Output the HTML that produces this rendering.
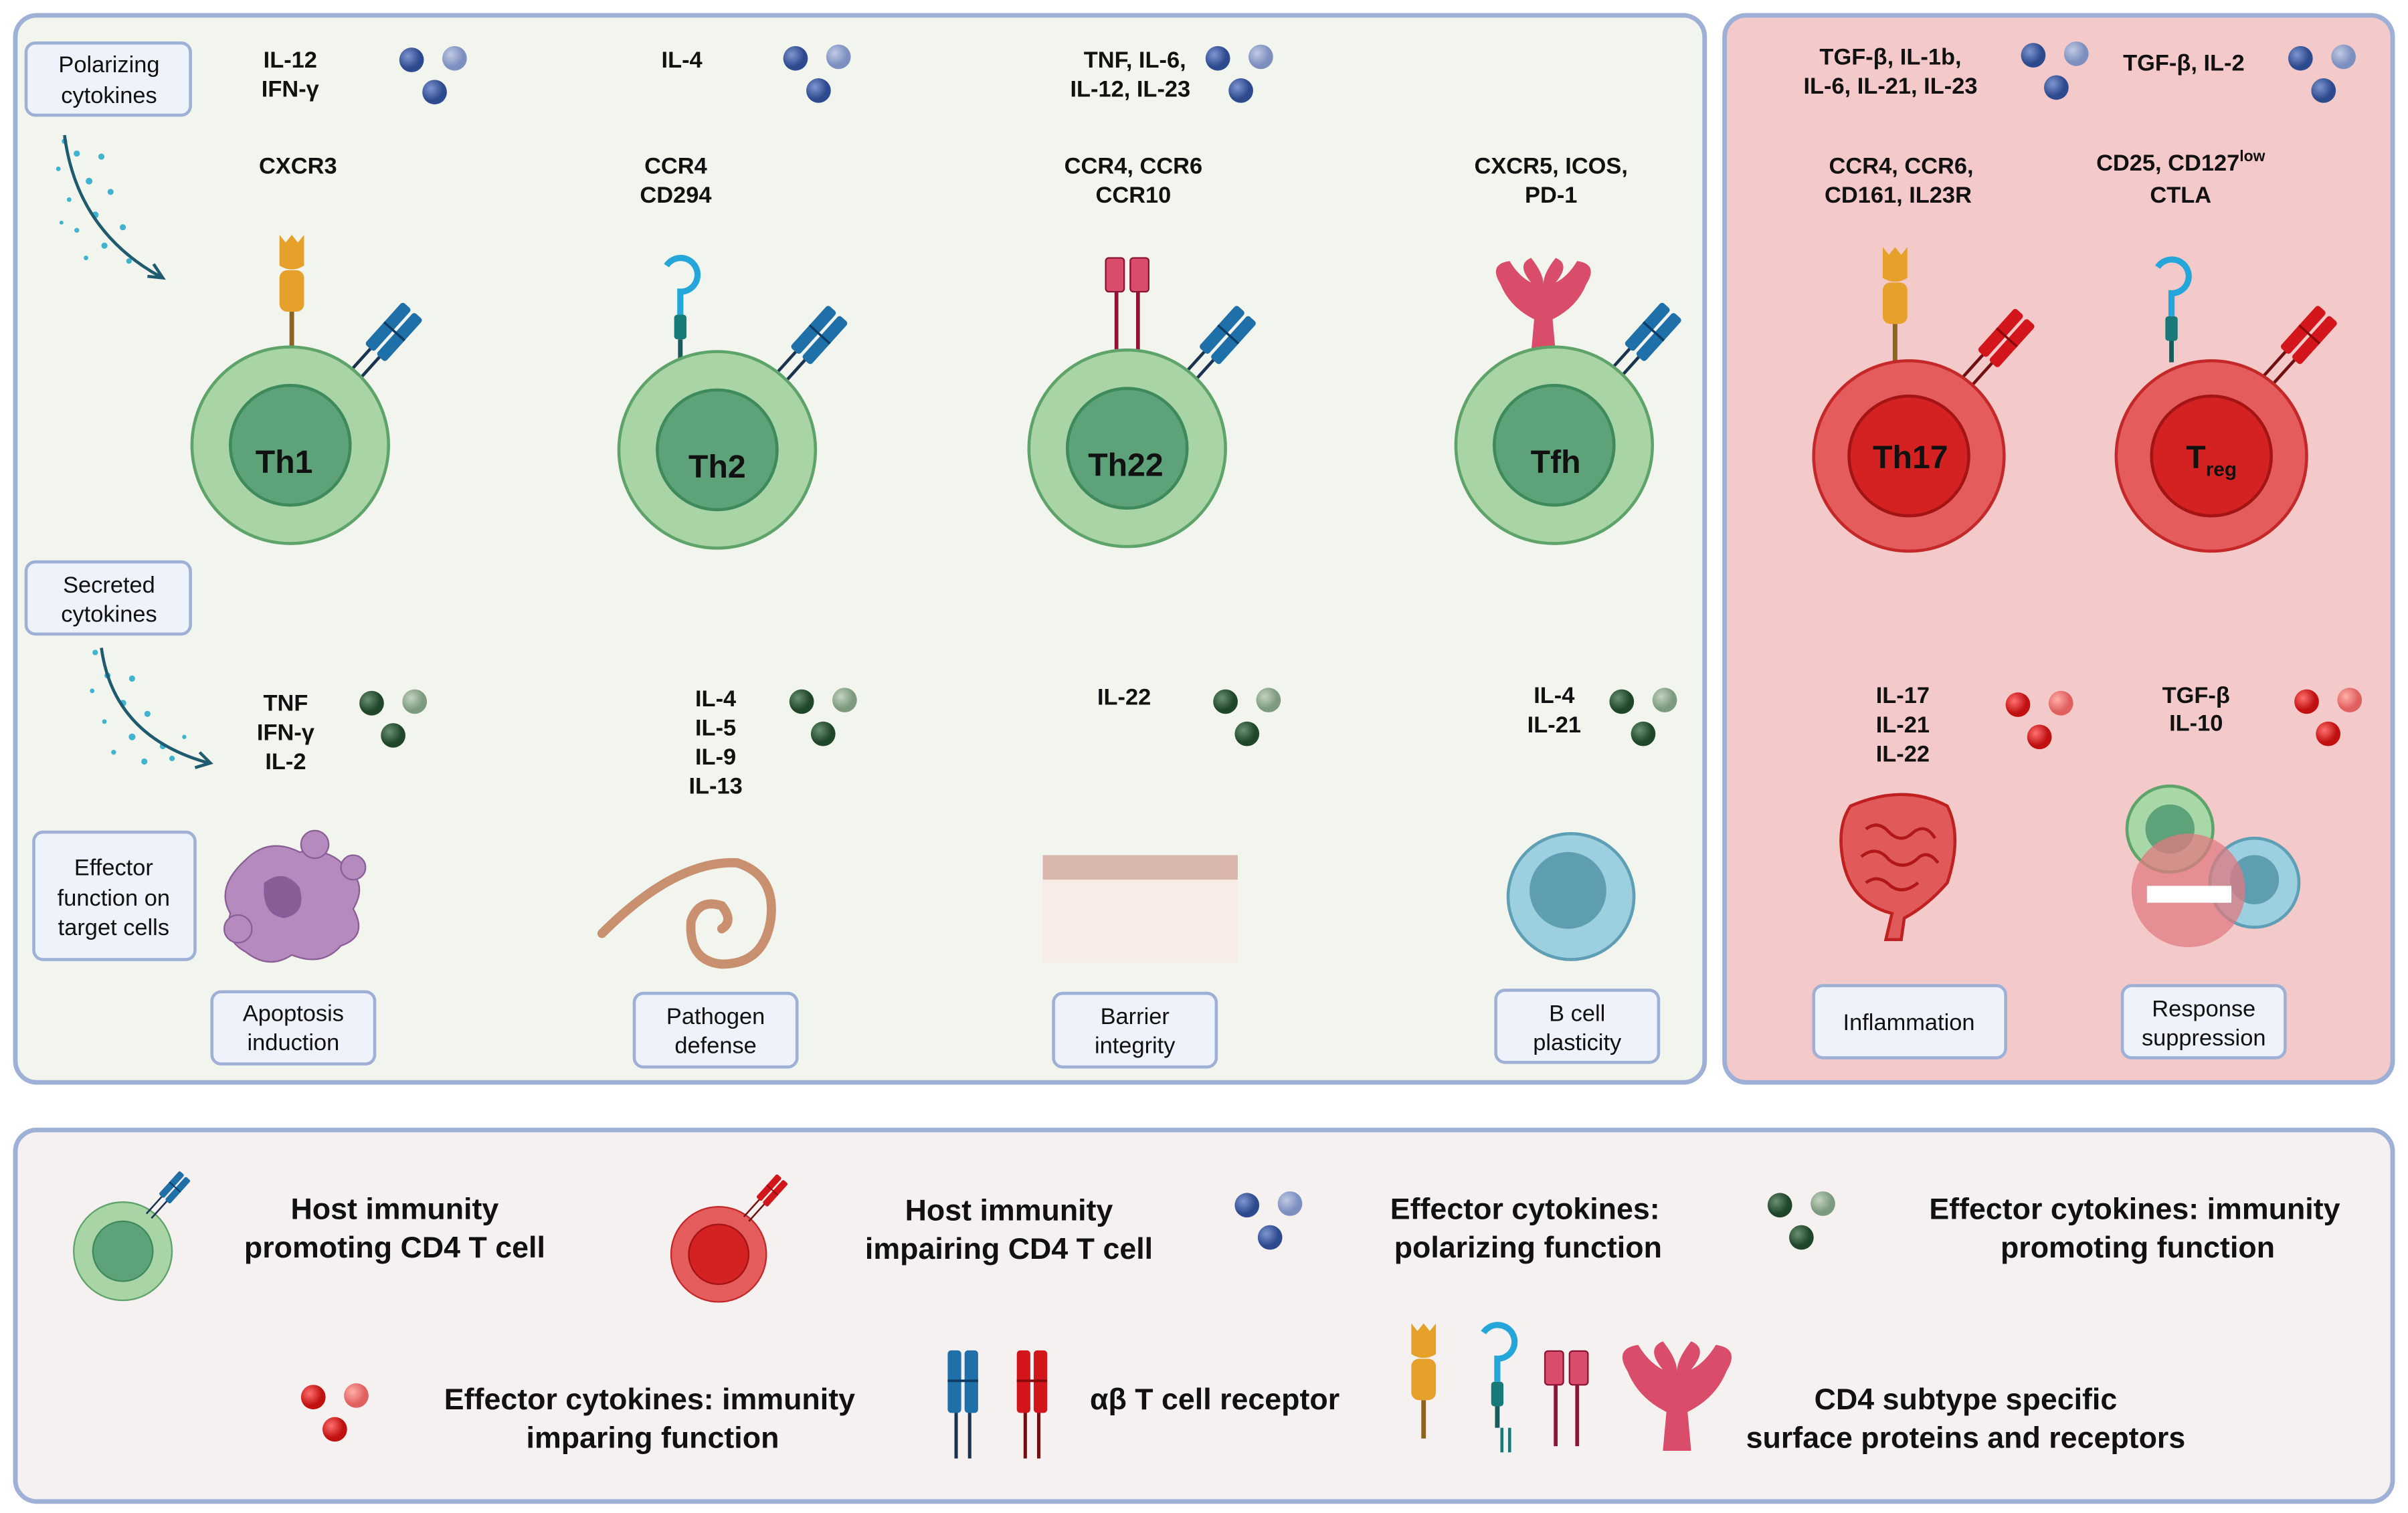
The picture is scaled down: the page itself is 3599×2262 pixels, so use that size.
<!DOCTYPE html>
<html><head><meta charset="utf-8"><style>
html,body{margin:0;padding:0;background:#fff;}
svg{display:block;}
text{font-family:"Liberation Sans",sans-serif;}
.b{font-weight:bold;font-size:15px;fill:#111;text-anchor:middle;}
.l{font-size:15px;fill:#111;text-anchor:middle;}
.lg{font-weight:bold;font-size:19.5px;fill:#111;text-anchor:middle;}
.box{fill:#eef2fa;stroke:#9fb0d6;stroke-width:2;}
</style></head><body>
<svg width="3599" height="2262" viewBox="0 0 1568 985.5" xmlns="http://www.w3.org/2000/svg">
<defs>
<radialGradient id="gb" cx="35%" cy="35%"><stop offset="0" stop-color="#7f95d0"/><stop offset="1" stop-color="#2d4a8e"/></radialGradient>
<radialGradient id="gbl" cx="35%" cy="35%"><stop offset="0" stop-color="#c0cae4"/><stop offset="1" stop-color="#7d8fbf"/></radialGradient>
<radialGradient id="gg" cx="35%" cy="35%"><stop offset="0" stop-color="#6b8f72"/><stop offset="1" stop-color="#1f4629"/></radialGradient>
<radialGradient id="ggl" cx="35%" cy="35%"><stop offset="0" stop-color="#c3d3c0"/><stop offset="1" stop-color="#7d9a7e"/></radialGradient>
<radialGradient id="gr" cx="35%" cy="35%"><stop offset="0" stop-color="#ff7070"/><stop offset="1" stop-color="#c01010"/></radialGradient>
<radialGradient id="grl" cx="35%" cy="35%"><stop offset="0" stop-color="#ffb0a8"/><stop offset="1" stop-color="#e06060"/></radialGradient>
<g id="blue"><circle cx="0" cy="0" r="8" fill="url(#gb)"/><circle cx="28" cy="-1" r="8" fill="url(#gbl)"/><circle cx="15" cy="21" r="8" fill="url(#gb)"/></g>
<g id="green"><circle cx="0" cy="0" r="8" fill="url(#gg)"/><circle cx="28" cy="-1" r="8" fill="url(#ggl)"/><circle cx="14" cy="21" r="8" fill="url(#gg)"/></g>
<g id="red"><circle cx="0" cy="0" r="8" fill="url(#gr)"/><circle cx="28" cy="-1" r="8" fill="url(#grl)"/><circle cx="14" cy="21" r="8" fill="url(#gr)"/></g>
<g id="tcrb"><line x1="-4" y1="0" x2="-4" y2="-28" stroke="#1a3350" stroke-width="2"/><line x1="4" y1="0" x2="4" y2="-28" stroke="#1a3350" stroke-width="2"/><rect x="-9" y="-64" width="8" height="37" rx="2" fill="#1f6fa8"/><rect x="1" y="-64" width="8" height="37" rx="2" fill="#1f6fa8"/><line x1="-9" y1="-46" x2="9" y2="-46" stroke="#0c3b66" stroke-width="1.5"/></g>
<g id="tcrr"><line x1="-4" y1="0" x2="-4" y2="-28" stroke="#701010" stroke-width="2"/><line x1="4" y1="0" x2="4" y2="-28" stroke="#701010" stroke-width="2"/><rect x="-9" y="-64" width="8" height="37" rx="2" fill="#d3161b"/><rect x="1" y="-64" width="8" height="37" rx="2" fill="#d3161b"/><line x1="-9" y1="-46" x2="9" y2="-46" stroke="#8a0a0a" stroke-width="1.5"/></g>
<g id="gcell"><circle r="64" fill="#a9d4a6" stroke="#5ea36a" stroke-width="2"/><circle r="39" fill="#5ea27a" stroke="#3f8a5d" stroke-width="2"/></g>
<g id="rcell"><circle r="62" fill="#e45c5c" stroke="#c42828" stroke-width="2"/><circle r="39" fill="#d42222" stroke="#a51414" stroke-width="2"/></g>
<g id="cxcr3"><line x1="0" y1="0" x2="0" y2="-25" stroke="#8a6420" stroke-width="3"/><rect x="-8" y="-52" width="16" height="27" rx="5" fill="#e5a12a"/><path d="M-8,-75 L-8,-55 Q0,-50 8,-55 L8,-75 L4,-70 L0,-75 L-4,-70 Z" fill="#e5a12a"/></g>
<g id="ccr4"><line x1="0" y1="0" x2="0" y2="-14" stroke="#1a5a5a" stroke-width="3"/><rect x="-4" y="-30" width="8" height="16" rx="2" fill="#187a78"/><path d="M0,-30 L0,-45 A11,11 0 1 0 -9,-62" fill="none" stroke="#24a6db" stroke-width="4"/></g>
<g id="ccr6"><line x1="-7" y1="0" x2="-7" y2="-40" stroke="#8b1535" stroke-width="2.5"/><line x1="7" y1="0" x2="7" y2="-40" stroke="#8b1535" stroke-width="2.5"/><rect x="-14" y="-62" width="12" height="22" rx="2" fill="#d94d6a" stroke="#8b1535"/><rect x="2" y="-62" width="12" height="22" rx="2" fill="#d94d6a" stroke="#8b1535"/></g>
<g id="tfhr" fill="#d94d6a"><path d="M-8,0 L-6,-22 Q-22,-30 -28,-45 Q-36,-58 -22,-60 Q-16,-50 -8,-46 Q-18,-58 -8,-62 Q0,-52 0,-45 Q0,-52 8,-62 Q18,-58 8,-46 Q16,-50 22,-60 Q36,-58 28,-45 Q22,-30 6,-22 L8,0 Z"/></g>
</defs>

<rect x="10" y="10" width="1100" height="695" rx="14" fill="#f2f5ed" stroke="#9fb0d6" stroke-width="3"/>
<rect x="1123" y="10" width="435" height="695" rx="14" fill="#f3c9c9" stroke="#9fb0d6" stroke-width="3"/>
<rect x="10" y="736" width="1548" height="242" rx="14" fill="#f6f1f1" stroke="#9fb0d6" stroke-width="3"/>

<rect class="box" x="17" y="28" width="107" height="47" rx="6"/>
<text class="l" x="71" y="47">Polarizing</text><text class="l" x="71" y="67">cytokines</text>
<rect class="box" x="17" y="366" width="107" height="47" rx="6"/>
<text class="l" x="71" y="386">Secreted</text><text class="l" x="71" y="405">cytokines</text>
<rect class="box" x="22" y="542" width="105" height="83" rx="6"/>
<text class="l" x="74" y="570">Effector</text><text class="l" x="74" y="590">function on</text><text class="l" x="74" y="609">target cells</text>

<g fill="#3fb3cf">
<circle cx="42" cy="92" r="1.8"/><circle cx="50" cy="100" r="2"/><circle cx="66" cy="102" r="2"/><circle cx="38" cy="110" r="1.5"/><circle cx="58" cy="118" r="2.2"/><circle cx="72" cy="125" r="2"/><circle cx="45" cy="130" r="1.5"/><circle cx="62" cy="140" r="2.2"/><circle cx="80" cy="148" r="2"/><circle cx="50" cy="150" r="1.6"/><circle cx="68" cy="160" r="2"/><circle cx="56" cy="168" r="1.5"/><circle cx="84" cy="170" r="1.8"/><circle cx="40" cy="145" r="1.3"/>
<circle cx="62" cy="425" r="1.8"/><circle cx="70" cy="440" r="2"/><circle cx="86" cy="442" r="2"/><circle cx="60" cy="450" r="1.5"/><circle cx="80" cy="458" r="2.2"/><circle cx="96" cy="465" r="2"/><circle cx="68" cy="470" r="1.5"/><circle cx="86" cy="480" r="2.2"/><circle cx="106" cy="486" r="2"/><circle cx="74" cy="490" r="1.6"/><circle cx="94" cy="496" r="2"/><circle cx="112" cy="494" r="1.8"/><circle cx="120" cy="480" r="1.4"/>
</g>
<path d="M42,88 Q50,150 104,180" fill="none" stroke="#1f5a6e" stroke-width="2"/><path d="M96,180 L106,181 L100,172" fill="none" stroke="#1f5a6e" stroke-width="2"/>
<path d="M66,422 Q74,480 136,497" fill="none" stroke="#1f5a6e" stroke-width="2"/><path d="M127,500 L137,497 L130,490" fill="none" stroke="#1f5a6e" stroke-width="2"/>

<text class="b" x="189" y="44">IL-12</text><text class="b" x="189" y="63">IFN-γ</text><use href="#blue" x="268" y="39"/>
<text class="b" x="444" y="44">IL-4</text><use href="#blue" x="518" y="38"/>
<text class="b" x="739" y="44">TNF, IL-6,</text><text class="b" x="736" y="63">IL-12, IL-23</text><use href="#blue" x="793" y="38"/>
<text class="b" x="1231" y="42">TGF-β, IL-1b,</text><text class="b" x="1231" y="61">IL-6, IL-21, IL-23</text><use href="#blue" x="1324" y="36"/>
<text class="b" x="1422" y="46">TGF-β, IL-2</text><use href="#blue" x="1498" y="38"/>

<text class="b" x="194" y="113">CXCR3</text>
<text class="b" x="440" y="113">CCR4</text><text class="b" x="440" y="132">CD294</text>
<text class="b" x="738" y="113">CCR4, CCR6</text><text class="b" x="738" y="132">CCR10</text>
<text class="b" x="1010" y="113">CXCR5, ICOS,</text><text class="b" x="1010" y="132">PD-1</text>
<text class="b" x="1238" y="113">CCR4, CCR6,</text><text class="b" x="1236" y="132">CD161, IL23R</text>
<text class="b" x="1420" y="111">CD25, CD127<tspan font-size="10" dy="-6">low</tspan></text><text class="b" x="1420" y="132">CTLA</text>

<use href="#cxcr3" x="190" y="228"/><use href="#tcrb" transform="translate(226,250) rotate(42)"/><use href="#gcell" x="189" y="290"/>
<text x="185" y="308" font-size="21" font-weight="bold" text-anchor="middle" fill="#111">Th1</text>
<use href="#ccr4" x="443" y="235"/><use href="#tcrb" transform="translate(503,252) rotate(42)"/><use href="#gcell" x="467" y="293"/>
<text x="467" y="311" font-size="21" font-weight="bold" text-anchor="middle" fill="#111">Th2</text>
<use href="#ccr6" x="734" y="230"/><use href="#tcrb" transform="translate(769,252) rotate(42)"/><use href="#gcell" x="734" y="292"/>
<text x="733" y="310" font-size="21" font-weight="bold" text-anchor="middle" fill="#111">Th22</text>
<use href="#tfhr" x="1005" y="230"/><use href="#tcrb" transform="translate(1046,250) rotate(42)"/><use href="#gcell" x="1012" y="290"/>
<text x="1013" y="308" font-size="21" font-weight="bold" text-anchor="middle" fill="#111">Tfh</text>
<use href="#cxcr3" x="1234" y="236"/><use href="#tcrr" transform="translate(1276,254) rotate(42)"/><use href="#rcell" x="1243" y="297"/>
<text x="1244" y="305" font-size="21" font-weight="bold" text-anchor="middle" fill="#111">Th17</text>
<use href="#ccr4" x="1414" y="236"/><use href="#tcrr" transform="translate(1473,252) rotate(42)"/><use href="#rcell" x="1440" y="297"/>
<text x="1440" y="305" font-size="21" font-weight="bold" text-anchor="middle" fill="#111">T<tspan font-size="13" dy="5">reg</tspan></text>

<text class="b" x="186" y="463">TNF</text><text class="b" x="186" y="482">IFN-γ</text><text class="b" x="186" y="501">IL-2</text><use href="#green" x="242" y="458"/>
<text class="b" x="466" y="460">IL-4</text><text class="b" x="466" y="479">IL-5</text><text class="b" x="466" y="498">IL-9</text><text class="b" x="466" y="517">IL-13</text><use href="#green" x="522" y="457"/>
<text class="b" x="732" y="459">IL-22</text><use href="#green" x="798" y="457"/>
<text class="b" x="1012" y="458">IL-4</text><text class="b" x="1012" y="477">IL-21</text><use href="#green" x="1056" y="457"/>
<text class="b" x="1239" y="458">IL-17</text><text class="b" x="1239" y="477">IL-21</text><text class="b" x="1239" y="496">IL-22</text><use href="#red" x="1314" y="459"/>
<text class="b" x="1430" y="458">TGF-β</text><text class="b" x="1430" y="476">IL-10</text><use href="#red" x="1502" y="457"/>

<g fill="#b58bbf" stroke="#8a5f96" stroke-width="1">
<path d="M160,560 Q175,545 195,555 Q215,552 225,565 Q240,575 230,592 Q240,610 222,616 Q210,630 190,622 Q175,632 160,620 Q145,612 150,595 Q140,578 160,560 Z"/>
<circle cx="205" cy="550" r="9"/><circle cx="230" cy="565" r="8"/><circle cx="155" cy="605" r="9"/>
</g>
<path d="M172,575 Q185,565 195,578 Q200,595 185,598 Q170,596 172,575 Z" fill="#8b5d98"/>
<path d="M392,608 Q440,560 480,562 Q505,570 502,598 Q498,628 470,628 Q448,626 450,600 Q455,585 470,590 Q478,600 470,605" fill="none" stroke="#c99070" stroke-width="6" stroke-linecap="round"/>
<rect x="679" y="557" width="127" height="70" fill="#f8ece6"/><rect x="679" y="557" width="127" height="16" fill="#d9b7ad"/>
<circle cx="1023" cy="584" r="41" fill="#9ccfe0" stroke="#5e9fb5" stroke-width="2"/><circle cx="1021" cy="580" r="25" fill="#5f9db1"/>
<path d="M1205,525 Q1240,510 1268,525 Q1278,545 1268,575 Q1255,590 1240,598 L1238,612 L1228,612 L1232,595 Q1205,588 1200,560 Q1196,538 1205,525 Z" fill="#e05a5a" stroke="#c02020" stroke-width="2"/>
<path d="M1215,540 q8,-6 15,2 q8,8 16,0 q8,-6 14,4 M1212,558 q10,-8 18,2 q10,8 20,-2 q6,-4 12,4 M1215,575 q8,-6 16,2 q8,6 18,-2" fill="none" stroke="#b01818" stroke-width="2"/>
<circle cx="1413" cy="540" r="28" fill="#a8d8a8" stroke="#5ea36a" stroke-width="2"/><circle cx="1413" cy="540" r="16" fill="#5ea27a"/>
<circle cx="1468" cy="575" r="29" fill="#9ccfe0" stroke="#5e9fb5" stroke-width="2"/><circle cx="1468" cy="573" r="16" fill="#5f9db1"/>
<circle cx="1425" cy="580" r="37" fill="#e07a80" opacity="0.75"/>
<rect x="1398" y="577" width="55" height="11" fill="#fff"/>

<rect class="box" x="138" y="646" width="106" height="47" rx="6"/><text class="l" x="191" y="665">Apoptosis</text><text class="l" x="191" y="684">induction</text>
<rect class="box" x="413" y="647" width="106" height="48" rx="6"/><text class="l" x="466" y="667">Pathogen</text><text class="l" x="466" y="686">defense</text>
<rect class="box" x="686" y="647" width="106" height="48" rx="6"/><text class="l" x="739" y="667">Barrier</text><text class="l" x="739" y="686">integrity</text>
<rect class="box" x="974" y="645" width="106" height="47" rx="6"/><text class="l" x="1027" y="665">B cell</text><text class="l" x="1027" y="684">plasticity</text>
<rect class="box" x="1181" y="642" width="125" height="47" rx="6"/><text class="l" x="1243" y="671">Inflammation</text>
<rect class="box" x="1382" y="642" width="106" height="47" rx="6"/><text class="l" x="1435" y="662">Response</text><text class="l" x="1435" y="681">suppression</text>

<g transform="translate(80,815) scale(0.5)"><use href="#gcell"/></g><use href="#tcrb" transform="translate(97,792) rotate(42) scale(0.55)"/>
<text class="lg" x="257" y="794">Host immunity</text><text class="lg" x="257" y="819">promoting CD4 T cell</text>
<g transform="translate(468,817) scale(0.5)"><use href="#rcell"/></g><use href="#tcrr" transform="translate(486,794) rotate(42) scale(0.55)"/>
<text class="lg" x="657" y="795">Host immunity</text><text class="lg" x="657" y="820">impairing CD4 T cell</text>
<use href="#blue" x="812" y="785"/>
<text class="lg" x="993" y="794">Effector cytokines:</text><text class="lg" x="995" y="819">polarizing function</text>
<use href="#green" x="1159" y="785"/>
<text class="lg" x="1390" y="794">Effector cytokines: immunity</text><text class="lg" x="1392" y="819">promoting function</text>
<use href="#red" x="204" y="910"/>
<text class="lg" x="423" y="918">Effector cytokines: immunity</text><text class="lg" x="425" y="943">imparing function</text>
<g transform="translate(627,950) scale(1.1)"><use href="#tcrb"/></g>
<g transform="translate(672,950) scale(1.1)"><use href="#tcrr"/></g>
<text class="lg" x="791" y="918">αβ T cell receptor</text>
<use href="#cxcr3" x="927" y="937"/>
<use href="#ccr4" x="975" y="930"/><path d="M978,930 v16 M983,930 v16" stroke="#187a78" stroke-width="2"/>
<use href="#ccr6" x="1020" y="942"/>
<g transform="translate(1092,945) scale(1.15)"><use href="#tfhr"/></g>
<text class="lg" x="1280" y="918">CD4 subtype specific</text><text class="lg" x="1280" y="943">surface proteins and receptors</text>
</svg>
</body></html>
